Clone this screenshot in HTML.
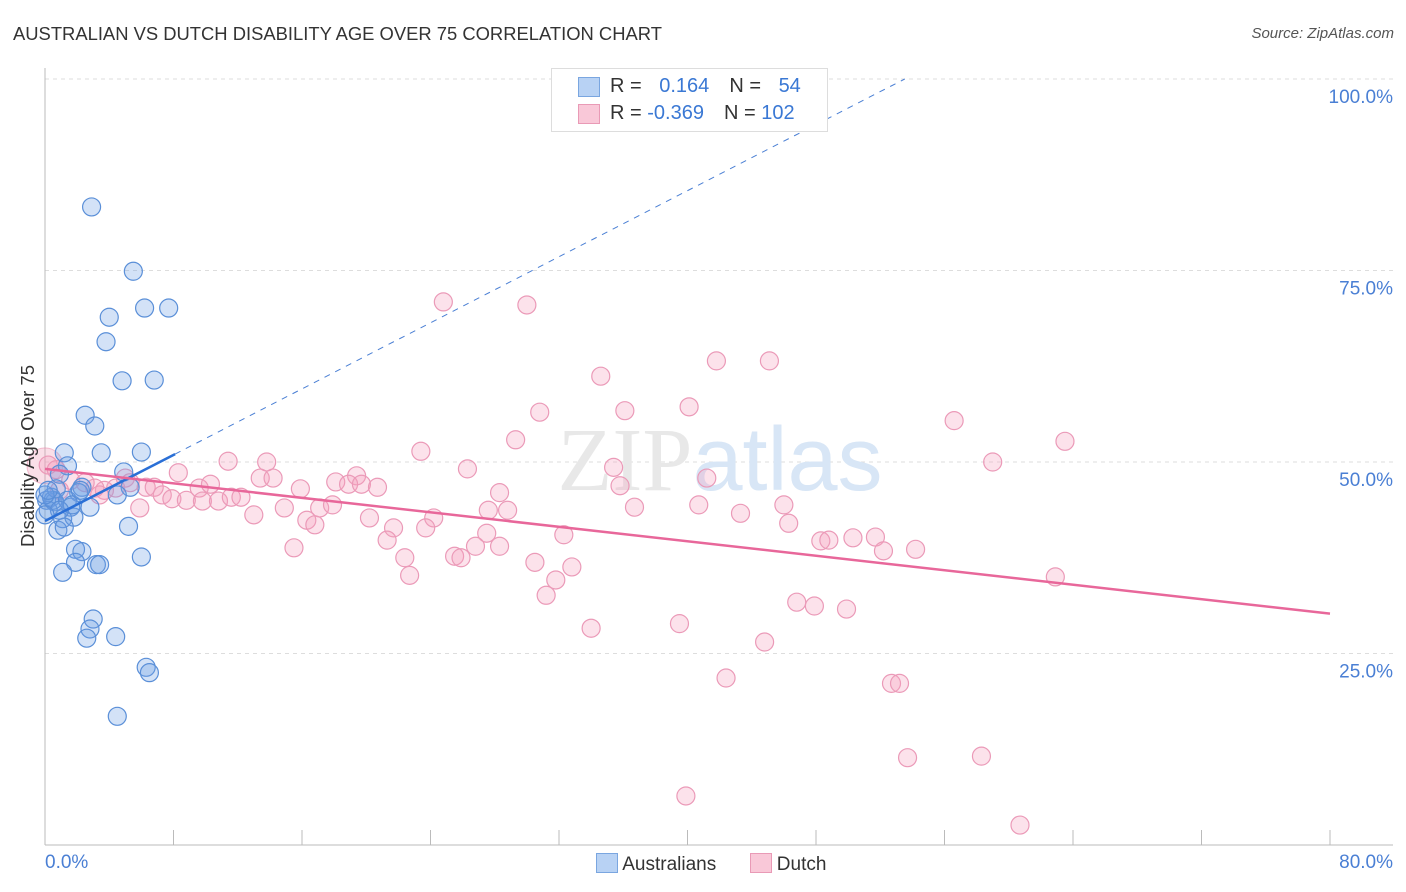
<!DOCTYPE html>
<html><head><meta charset="utf-8"><style>
body{margin:0;background:#fff;font-family:"Liberation Sans",sans-serif;}
#wrap{position:relative;width:1406px;height:892px;}
.t{position:absolute;white-space:nowrap;}
</style></head><body>
<div id="wrap">
<div class="t" style="left:13px;top:23px;font-size:18.4px;color:#333;">AUSTRALIAN VS DUTCH DISABILITY AGE OVER 75 CORRELATION CHART</div>
<div class="t" style="right:12px;top:25px;font-size:15px;color:#555;font-style:italic;">Source: ZipAtlas.com</div>
<svg id="svg" width="1406" height="892" style="position:absolute;left:0;top:0"></svg>
</div>
<script>
const bx=[2.9,5.5,6.2,7.7,4.0,3.8,4.8,6.8,2.5,3.1,3.5,6.0,1.2,1.4,4.9,0.9,5.3,4.5,2.3,2.1,0.4,0.1,0.6,2.8,1.6,1.1,0.2,1.8,0.8,1.2,5.2,1.9,2.3,1.9,6.0,1.1,3.2,3.4,3.0,2.8,2.6,4.4,6.3,6.5,4.5,0.5,0.7,0.0,0.2,1.4,1.7,0.9,0.0,2.2];
const by=[83.3,74.9,70.1,70.1,68.9,65.7,60.6,60.7,56.1,54.7,51.2,51.3,51.2,49.5,48.7,48.4,46.7,45.7,46.7,46.0,45.4,45.0,44.8,44.1,44.1,42.6,43.7,42.8,41.1,41.5,41.6,38.6,38.3,36.9,37.6,35.6,36.6,36.6,29.5,28.2,27.0,27.2,23.2,22.5,16.8,45.0,46.5,45.7,46.3,45.0,44.4,43.7,43.1,46.3];
const px=[24.8,30.0,41.8,45.1,34.6,30.8,36.1,40.1,56.6,63.5,29.3,23.4,11.4,13.8,59.0,35.4,26.3,8.3,13.4,14.2,41.2,19.4,18.1,18.9,19.7,20.7,35.8,15.9,9.6,10.3,28.3,6.3,6.8,7.3,7.9,8.8,9.8,10.8,11.6,12.2,14.9,17.1,17.9,13.0,16.3,16.8,5.9,36.7,40.7,46.0,27.6,28.8,24.2,20.2,21.7,23.7,43.3,46.3,21.3,27.5,32.3,15.5,28.3,48.3,48.8,50.3,51.7,52.2,54.2,22.4,25.5,25.9,26.8,30.5,32.8,31.8,22.7,62.9,31.2,46.8,47.9,49.9,34.0,39.5,44.8,42.4,52.7,53.2,53.7,58.3,39.9,60.7,0.2,0.7,3.7,4.4,3.1,1.6,2.5,5.0,0.9,5.3,3.4];
const py=[70.9,70.5,63.2,63.2,61.2,56.5,56.7,57.2,55.4,52.7,52.9,51.4,50.1,50.0,50.0,49.3,49.1,48.6,47.9,47.9,47.9,48.2,47.4,47.1,47.1,46.7,46.9,46.5,46.6,47.1,46.0,46.7,46.7,45.7,45.2,45.0,44.9,44.9,45.4,45.4,44.0,44.0,44.4,43.1,42.4,41.8,44.0,44.1,44.4,44.4,43.7,43.7,42.7,42.7,41.4,41.4,43.3,42.0,39.8,40.7,40.5,38.8,39.0,39.7,39.8,40.1,40.2,38.4,38.6,37.5,37.7,37.5,39.0,36.9,36.3,34.6,35.2,35.0,32.6,31.7,31.2,30.8,28.3,28.9,26.5,21.8,21.1,21.1,11.4,11.6,6.4,2.6,49.6,49.0,46.3,46.6,46.6,47.6,47.3,47.9,46.3,47.3,45.7];
const blueTrend=[42.3,1.078], pinkTrend=[49.1,30.2];
const yTicks=[25,50,75,100], yLabels=["25.0%","50.0%","75.0%","100.0%"];
const X=v=>45+v*1285/80, Y=v=>845-v*7.66;
const s=document.getElementById('svg'),NS='http://www.w3.org/2000/svg';
function mk(t,a){const e=document.createElementNS(NS,t);for(const k in a)e.setAttribute(k,a[k]);s.appendChild(e);return e;}
yTicks.forEach((v,i)=>{const l=mk('line',{x1:45,x2:1393,y1:Y(v),y2:Y(v),stroke:'#ddd','stroke-dasharray':'4,4'});

const t=mk('text',{x:1393,y:Y(v)+24,'text-anchor':'end','font-size':19,fill:'#4a7fd4','font-family':'Liberation Sans'});t.textContent=yLabels[i];
});
const ax=mk('line',{x1:45,x2:45,y1:68,y2:845,stroke:'#bbb'});
const ax2=mk('line',{x1:45,x2:1393,y1:845,y2:845,stroke:'#bbb'});
for(let i=0;i<=10;i++){const t=mk('line',{x1:X(i*8),x2:X(i*8),y1:830,y2:845,stroke:'#bbb'});}
const wm=mk('text',{x:720,y:490,'text-anchor':'middle','font-size':90,fill:'#e8e8e8','font-family':'Liberation Serif'});wm.innerHTML='ZIP<tspan fill="#d8e6f6" font-family="Liberation Sans">atlas</tspan>';

const big=mk('circle',{cx:X(0),cy:Y(49.5),r:18,fill:'rgba(240,150,180,0.3)',stroke:'rgba(233,130,165,0.5)'});
px.forEach((v,i)=>{const c=mk('circle',{cx:X(v),cy:Y(py[i]),r:9,fill:'rgba(245,160,190,0.3)',stroke:'#eb9ab8','stroke-width':1.2});
});
bx.forEach((v,i)=>{const c=mk('circle',{cx:X(v),cy:Y(by[i]),r:9,fill:'rgba(110,160,230,0.3)',stroke:'#5a8fd8','stroke-width':1.2});
});
const xe=(100-blueTrend[0])/blueTrend[1];
const bd=mk('line',{x1:X(8.1),y1:Y(blueTrend[0]+8.1*blueTrend[1]),x2:X(xe),y2:Y(100),stroke:'#4a7fd4','stroke-dasharray':'6,6','stroke-width':1});

const bl=mk('line',{x1:X(0),y1:Y(blueTrend[0]),x2:X(8.1),y2:Y(blueTrend[0]+8.1*blueTrend[1]),stroke:'#2a6fd6','stroke-width':2.5});

const pl=mk('line',{x1:X(0),y1:Y(pinkTrend[0]),x2:X(80),y2:Y(pinkTrend[1]),stroke:'#e8679a','stroke-width':2.5});

</script>
<div class="t" style="left:-72px;top:445px;width:200px;text-align:center;transform:rotate(-90deg);font-size:18.5px;color:#333;">Disability Age Over 75</div>
<div class="t" style="left:45px;top:852px;font-size:19px;color:#4a7fd4;">0.0%</div>
<div class="t" style="right:13px;top:852px;font-size:19px;color:#4a7fd4;">80.0%</div>
<div style="position:absolute;left:551px;top:68px;width:275px;height:62px;border:1px solid #ddd;background:#fff;font-size:20px;">
<div style="position:absolute;left:26px;top:8px;width:20px;height:18px;background:#b8d2f4;border:1px solid #7aa6e0;"></div>
<div class="t" style="left:58px;top:6px;color:#333;">R = <span style="color:#3a78d4;margin-left:12px;">0.164</span><span style="margin-left:20px;">N = </span><span style="color:#3a78d4;margin-left:12px;">54</span></div>
<div style="position:absolute;left:26px;top:35px;width:20px;height:18px;background:#f9c8d8;border:1px solid #e99ab6;"></div>
<div class="t" style="left:58px;top:33px;color:#333;">R = <span style="color:#3a78d4;">-0.369</span><span style="margin-left:20px;">N = </span><span style="color:#3a78d4;">102</span></div>
</div>
<div style="position:absolute;left:596px;top:853px;font-size:19px;color:#333;">
<span style="display:inline-block;width:20px;height:18px;background:#b8d2f4;border:1px solid #7aa6e0;vertical-align:-3px;"></span> Australians
<span style="display:inline-block;width:20px;height:18px;background:#f9c8d8;border:1px solid #e99ab6;vertical-align:-3px;margin-left:28px;"></span> Dutch
</div>
</body></html>
